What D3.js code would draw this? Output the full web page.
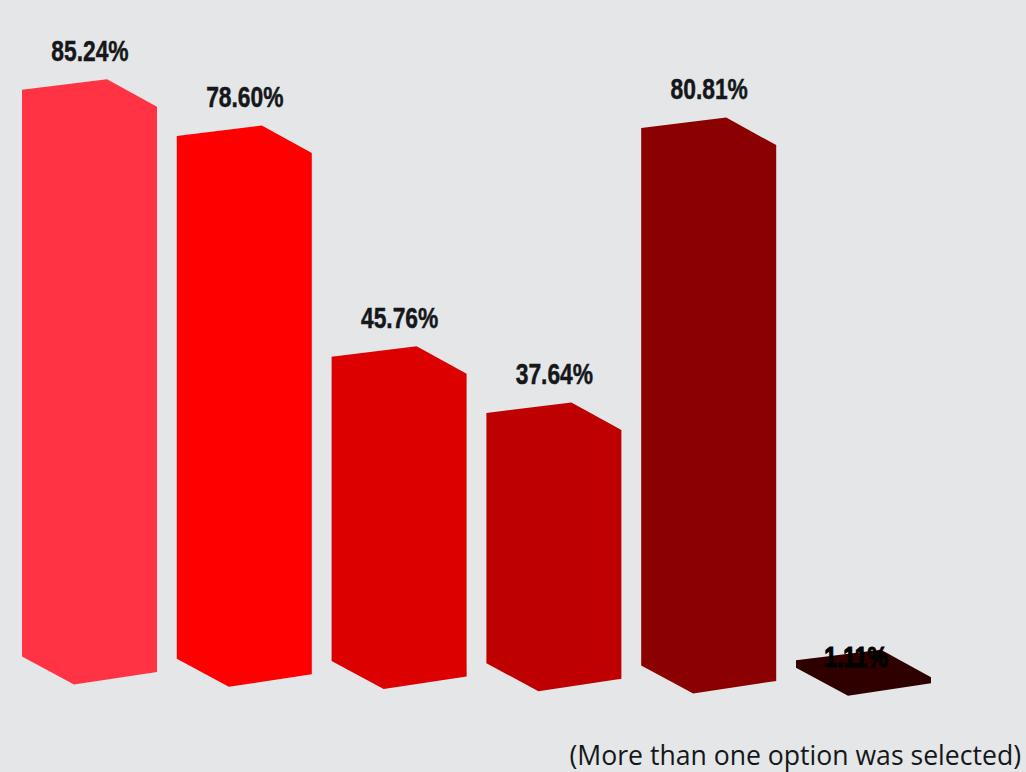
<!DOCTYPE html>
<html>
<head>
<meta charset="utf-8">
<script src="https://cdn.jsdelivr.net/npm/d3@7/dist/d3.min.js"></script>
<style>
  html, body { margin: 0; padding: 0; background: #e4e6e8; }
  svg { display: block; }
</style>
</head>
<body>
<script>
// Survey answers shown as extruded bars
const categories = ["A", "B", "C", "D", "E", "F"];
const values = [85.24, 78.60, 45.76, 37.64, 80.81, 1.11];
const colors = ["#ff3344", "#ff0000", "#dd0000", "#bf0000", "#8b0000", "#2e0000"];
const footnote = "(More than one option was selected)";

const width = 1026, height = 772;

const svg = d3.select("body").append("svg")
  .attr("width", width)
  .attr("height", height);

svg.append("rect")
  .attr("width", width)
  .attr("height", height)
  .attr("fill", "#e4e6e8");

const x = d3.scalePoint().domain(categories).range([22, 796]);
const h = d3.scaleLinear().domain([0, 100]).range([0, 665]);

// The floor of the scene leans slightly downward to the right
const ground = d3.scaleLinear().domain([21, 795]).range([656.5, 667.7]);

const topOf = (d, i) => ground(x(categories[i])) - h(d);

// Box outline, walking around the silhouette clockwise from the front-left top
function outline(d, i) {
  const x0 = x(categories[i]);
  const base = ground(x0);
  const top = base - h(d);
  const pts = [
    [x0, top],
    [x0 + 85, top - 10.5],
    [x0 + 135, top + 17],
    [x0 + 135, base + 15.5],
    [x0 + 52, base + 28],
    [x0, base]
  ];
  return d3.line()(pts) + "Z";
}

svg.selectAll("path.bar")
  .data(values)
  .join("path")
  .attr("class", "bar")
  .attr("d", outline)
  .attr("fill", (d, i) => colors[i]);

// Condensed heavy labels above each box; a near-empty box carries its label on its lid
svg.selectAll("text.value")
  .data(values)
  .join("text")
  .attr("class", "value")
  .attr("transform", (d, i) => {
    const lx = x(categories[i]) + (d < 5 ? 60 : 68);
    const ly = topOf(d, i) + (d < 5 ? -3 : -39);
    return `translate(${lx},${ly}) scale(0.76,1)`;
  })
  .attr("text-anchor", "middle")
  .attr("dominant-baseline", "central")
  .attr("font-family", "'Liberation Sans', sans-serif")
  .attr("font-weight", 700)
  .attr("font-size", 30)
  .attr("fill", d => d < 5 ? "#000000" : "#15171a")
  .attr("stroke", d => d < 5 ? "#000000" : "#15171a")
  .attr("stroke-width", d => d < 5 ? 1.2 : 0.5)
  .text(d => d.toFixed(2) + "%");

svg.append("text")
  .attr("x", 1021)
  .attr("y", 765)
  .attr("text-anchor", "end")
  .attr("font-family", "'Open Sans', sans-serif")
  .attr("font-size", 26.6)
  .attr("fill", "#15171a")
  .text(footnote);
</script>
</body>
</html>
